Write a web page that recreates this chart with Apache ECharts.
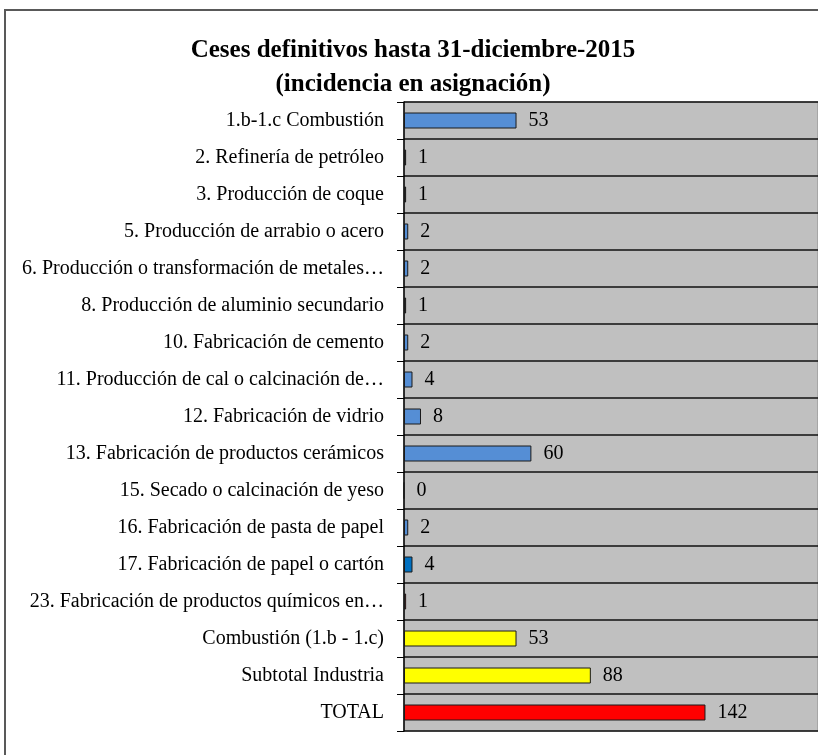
<!DOCTYPE html>
<html><head><meta charset="utf-8">
<script src="https://cdn.jsdelivr.net/npm/echarts@6/dist/echarts.min.js"></script>
<style>html,body{margin:0;padding:0;background:#fff}#c{width:818px;height:755px}</style>
</head><body><div id="c"></div>
<script>
const categories = [
  "1.b-1.c Combustión",
  "2. Refinería de petróleo",
  "3. Producción de coque",
  "5. Producción de arrabio o acero",
  "6. Producción o transformación de metales…",
  "8. Producción de aluminio secundario",
  "10. Fabricación de cemento",
  "11. Producción de cal o calcinación de…",
  "12. Fabricación de vidrio",
  "13. Fabricación de productos cerámicos",
  "15. Secado o calcinación de yeso",
  "16. Fabricación de pasta de papel",
  "17. Fabricación de papel o cartón",
  "23. Fabricación de productos químicos en…",
  "Combustión (1.b - 1.c)",
  "Subtotal Industria",
  "TOTAL"
];
const values = [53, 1, 1, 2, 2, 1, 2, 4, 8, 60, 0, 2, 4, 1, 53, 88, 142];
const barColors = ["#558ed5","#1a1a1a","#1a1a1a","#558ed5","#558ed5","#1a1a1a","#558ed5","#558ed5","#558ed5","#558ed5","#558ed5","#558ed5","#0070c0","#ff0000","#ffff00","#ffff00","#ff0000"];
const titleLines = ["Ceses definitivos hasta 31-diciembre-2015", "(incidencia en asignación)"];

const chart = echarts.init(document.getElementById('c'), null, {renderer:'canvas'});
chart.setOption({
  animation: false,
  backgroundColor: '#ffffff',
  title: {
    text: titleLines.join('\n'),
    left: 408, top: 29, textAlign: 'center',
    textStyle: {fontFamily: 'Liberation Serif', fontWeight: 'bold', fontSize: 25, lineHeight: 34, color: '#000'}
  },
  graphic: [{
    type: 'polyline', z: 100,
    shape: {points: [[5, 760], [5, 10], [830, 10]]},
    style: {stroke: '#595959', lineWidth: 2, fill: null}
  }],
  grid: {left: 404, top: 102, right: 0, bottom: 24, show: true, backgroundColor: '#c0c0c0', borderColor: '#8c8c8c', borderWidth: 1},
  xAxis: {type: 'value', min: 0, max: 195, show: false, splitLine: {show: false}},
  yAxis: {
    type: 'category', data: categories, inverse: true,
    axisLine: {show: true, lineStyle: {color: '#000', width: 1.5}},
    axisTick: {show: true, length: 7, lineStyle: {color: '#000'}},
    splitLine: {show: true, lineStyle: {color: '#111', width: 1.5}},
    axisLabel: {fontFamily: 'Liberation Serif', fontSize: 20, color: '#000', margin: 20}
  },
  series: [{
    type: 'bar', barWidth: 16,
    data: values.map((v, i) => ({value: v, itemStyle: {color: barColors[i]}})),
    itemStyle: {borderColor: '#1a1a1a', borderWidth: 1},
    label: {show: true, position: 'right', distance: 12, fontFamily: 'Liberation Serif', fontSize: 20, color: '#000'}
  }]
});
</script></body></html>
